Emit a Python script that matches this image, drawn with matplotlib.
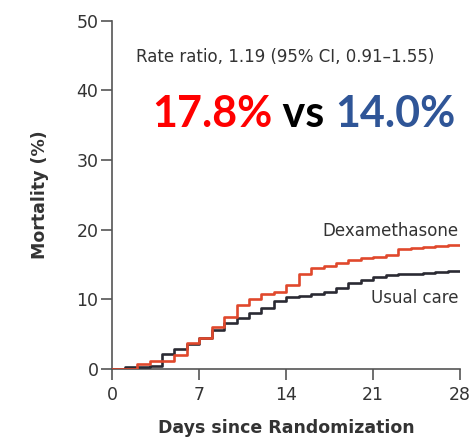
import matplotlib
matplotlib.use('Agg')
import matplotlib.pyplot as plt
import numpy as np

# cumulative mortality (%) at the start of each day, days 0..28
days = list(range(29))
dexamethasone = [0.0, 0.0, 0.7, 1.2, 1.2, 2.0, 3.7, 4.5, 6.0, 7.5, 9.2, 10.0, 10.8, 11.1,
                 12.0, 13.6, 14.5, 14.8, 15.2, 15.6, 15.9, 16.1, 16.4, 17.2, 17.4, 17.5,
                 17.7, 17.8, 17.8]
usual_care = [0.0, 0.3, 0.3, 0.5, 2.2, 2.8, 3.6, 4.5, 5.6, 6.6, 7.3, 8.1, 8.8, 9.8,
              10.3, 10.5, 10.8, 11.1, 11.7, 12.4, 12.8, 13.2, 13.5, 13.6, 13.7, 13.8,
              13.9, 14.0, 14.0]
x_ticks = [0, 7, 14, 21, 28]
y_ticks = [0, 10, 20, 30, 40, 50]

red = '#e0482c'
dark = '#2a2a33'
grey = '#333333'

fig = plt.figure(figsize=(4.72, 4.37), dpi=100)
ax = fig.add_axes([0.238, 0.1556, 0.737, 0.797])

ax.step(days, usual_care, where='post', color=dark, lw=1.9, zorder=3)
ax.step(days, dexamethasone, where='post', color=red, lw=1.9, zorder=4)

ax.set_xlim(0, 28)
ax.set_ylim(0, 50)
ax.set_xticks(x_ticks)
ax.set_yticks(y_ticks)
for s in ['top', 'right']:
    ax.spines[s].set_visible(False)
for s in ['left', 'bottom']:
    ax.spines[s].set_color('#555555')
    ax.spines[s].set_linewidth(1.2)
ax.tick_params(axis='both', colors='#555555', length=8, width=1.2,
               labelsize=12.5, labelcolor=grey)
ax.tick_params(axis='x', pad=4)
ax.tick_params(axis='y', pad=2)

ax.set_xlabel('Days since Randomization', fontsize=12.5, fontweight='bold',
              color=grey, labelpad=11)
ax.set_ylabel('Mortality (%)', fontsize=12.5, fontweight='bold', color=grey,
              labelpad=20)

ax.text(27.9, dexamethasone[-1] + 0.7, 'Dexamethasone', ha='right', va='bottom',
        fontsize=12, color=grey)
ax.text(27.9, usual_care[-1] - 2.5, 'Usual care', ha='right', va='top',
        fontsize=12, color=grey)

ax.text(1.9, 44.8, 'Rate ratio, 1.19 (95% CI, 0.91\u20131.55)', ha='left',
        va='center', fontsize=12, color=grey)

big = dict(fontsize=31, fontweight='bold', family='Lato', va='center', ha='left')
t1 = ax.text(3.2, 36.6, '17.8%', color='#ff0000', **big)
t2 = ax.annotate(' vs ', xycoords=t1, xy=(1, 0.5), color='black', **big)
ax.annotate('14.0%', xycoords=t2, xy=(1, 0.5), color='#2f5597', **big)

fig.savefig('out.png', dpi=100)
